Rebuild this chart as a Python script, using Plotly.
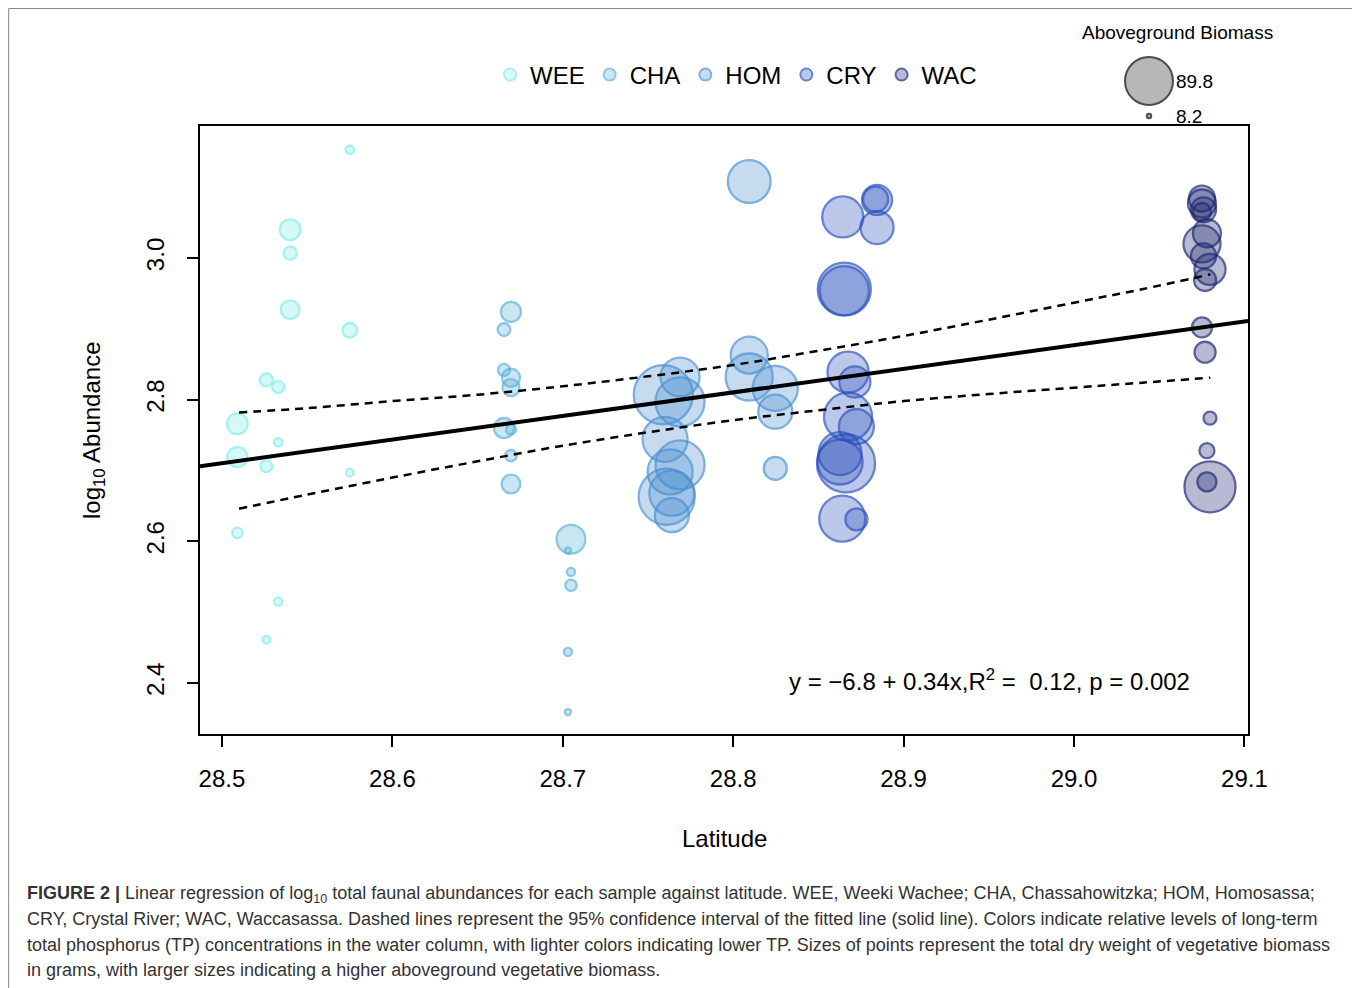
import plotly.graph_objects as go

# ---------------- data ----------------
sites = ["WEE", "CHA", "HOM", "CRY", "WAC"]

wee_lat = [28.575, 28.540, 28.540, 28.540, 28.575, 28.526, 28.533, 28.509, 28.533, 28.509, 28.526, 28.575, 28.509, 28.533, 28.526]
wee_abund = [3.153, 3.040, 3.007, 2.927, 2.898, 2.828, 2.818, 2.766, 2.740, 2.719, 2.706, 2.697, 2.612, 2.515, 2.461]
wee_biomass = [15.5, 38.8, 24.5, 34.8, 27.2, 24.5, 22.1, 38.8, 15.5, 37.5, 22.1, 14.2, 19.5, 15.5, 14.2]

cha_lat = [28.6696, 28.6655, 28.6655, 28.6696, 28.6696, 28.6655, 28.6696, 28.6696, 28.6696, 28.7048, 28.7030, 28.7048, 28.7048, 28.7030, 28.7030]
cha_abund = [2.924, 2.899, 2.842, 2.831, 2.817, 2.760, 2.758, 2.721, 2.681, 2.603, 2.587, 2.557, 2.538, 2.444, 2.359]
cha_biomass = [37.5, 23.8, 22.5, 33.7, 31.8, 37.5, 18.7, 21.2, 35.0, 53.7, 11.2, 15.0, 21.2, 15.0, 11.2]

hom_lat = [28.8094, 28.8094, 28.8094, 28.8247, 28.8247, 28.8247, 28.7688, 28.7590, 28.7688, 28.7600, 28.7688, 28.7630, 28.7610, 28.7640, 28.7640]
hom_abund = [3.108, 2.863, 2.832, 2.816, 2.783, 2.703, 2.832, 2.807, 2.797, 2.744, 2.708, 2.698, 2.663, 2.668, 2.637]
hom_biomass = [80.0, 69.3, 88.0, 84.3, 63.7, 43.1, 73.0, 110.5, 91.8, 84.3, 91.8, 84.3, 104.9, 84.3, 63.7]

cry_lat = [28.8643, 28.8844, 28.8836, 28.8844, 28.8652, 28.8652, 28.8674, 28.8714, 28.8674, 28.8723, 28.8627, 28.8662, 28.8627, 28.8640, 28.8723]
cry_abund = [3.058, 3.082, 3.083, 3.043, 2.956, 2.954, 2.839, 2.825, 2.776, 2.762, 2.724, 2.710, 2.712, 2.632, 2.631]
cry_biomass = [76.8, 56.2, 46.8, 61.8, 99.3, 91.8, 76.8, 58.1, 89.9, 65.5, 80.5, 108.6, 84.3, 86.1, 41.2]

wac_lat = [29.0751, 29.0751, 29.0760, 29.0751, 29.0780, 29.0751, 29.0760, 29.0798, 29.0769, 29.0751, 29.0769, 29.0798, 29.0780, 29.0798, 29.0780]
wac_abund = [3.084, 3.077, 3.068, 3.065, 3.035, 3.020, 3.003, 2.984, 2.969, 2.902, 2.867, 2.774, 2.728, 2.677, 2.684]
wac_biomass = [48.7, 52.4, 46.8, 33.7, 52.4, 69.3, 46.8, 58.1, 41.2, 37.5, 39.3, 24.3, 28.1, 95.5, 35.6]

fit_lat = [28.4871, 29.1021]
fit_abund = [2.706, 2.911]

ci_lat = [28.51, 28.55, 28.60, 28.65, 28.70, 28.75, 28.80, 28.85, 28.90, 28.95, 29.00, 29.04, 29.08]
ci_upper = [2.782, 2.788, 2.798, 2.807, 2.819, 2.833, 2.849, 2.869, 2.890, 2.913, 2.937, 2.956, 2.977]
ci_lower = [2.646, 2.666, 2.690, 2.713, 2.735, 2.754, 2.771, 2.785, 2.798, 2.808, 2.817, 2.824, 2.831]

size_legend_values = [89.8, 8.2]

x_ticks = [28.5, 28.6, 28.7, 28.8, 28.9, 29.0, 29.1]
y_ticks = [2.4, 2.6, 2.8, 3.0]

equation_text = "y = \u22126.8 + 0.34x,R<sup>2</sup> = \u00a00.12, p = 0.002"

caption_lines = [
    "<b>FIGURE 2 |</b> Linear regression of log<sub>10</sub> total faunal abundances for each sample against latitude. WEE, Weeki Wachee; CHA, Chassahowitzka; HOM, Homosassa;",
    "CRY, Crystal River; WAC, Waccasassa. Dashed lines represent the 95% confidence interval of the fitted line (solid line). Colors indicate relative levels of long-term",
    "total phosphorus (TP) concentrations in the water column, with lighter colors indicating lower TP. Sizes of points represent the total dry weight of vegetative biomass",
    "in grams, with larger sizes indicating a higher aboveground vegetative biomass.",
]

# ---------------- styling ----------------
# page body has an 8px margin, so the figure is 1352x980 and starts at (8, 8)
OFF = 8
W, H = 1360 - OFF, 988 - OFF


def fx(px):
    return (px - OFF) / W


def fy(py):
    return 1 - (py - OFF) / H


FONT = "Liberation Sans, Arial, sans-serif"
site_colors = {
    "WEE": (126, 237, 234),
    "CHA": (88, 176, 216),
    "HOM": (72, 142, 208),
    "CRY": (40, 78, 190),
    "WAC": (26, 34, 112),
}
SIZEREF = 1.8727  # diameter px = biomass / SIZEREF

site_data = {
    "WEE": (wee_lat, wee_abund, wee_biomass),
    "CHA": (cha_lat, cha_abund, cha_biomass),
    "HOM": (hom_lat, hom_abund, hom_biomass),
    "CRY": (cry_lat, cry_abund, cry_biomass),
    "WAC": (wac_lat, wac_abund, wac_biomass),
}

fig = go.Figure()

for s in sites:
    lat, ab, bm = site_data[s]
    r, g, b = site_colors[s]
    fig.add_trace(go.Scatter(
        x=lat, y=ab, mode="markers", name=s,
        marker=dict(size=bm, sizemode="diameter", sizeref=SIZEREF,
                    color=f"rgba({r},{g},{b},0.44)",
                    line=dict(color=f"rgb({r},{g},{b})", width=2.3)),
        xaxis="x", yaxis="y",
    ))

fig.add_trace(go.Scatter(x=fit_lat, y=fit_abund, mode="lines", showlegend=False,
                         line=dict(color="black", width=4)))
fig.add_trace(go.Scatter(x=ci_lat, y=ci_upper, mode="lines", showlegend=False,
                         line=dict(color="black", width=2.5, dash="8px,6px", shape="spline")))
fig.add_trace(go.Scatter(x=ci_lat, y=ci_lower, mode="lines", showlegend=False,
                         line=dict(color="black", width=2.5, dash="8px,6px", shape="spline")))

# size legend (secondary axes in top-right)
fig.add_trace(go.Scatter(
    x=[0] * len(size_legend_values),
    y=list(range(len(size_legend_values)))[::-1],
    mode="markers", showlegend=False, xaxis="x2", yaxis="y2",
    marker=dict(size=size_legend_values, sizemode="diameter", sizeref=SIZEREF,
                color="#999999", line=dict(color="black", width=2)),
))

annotations = []
for i, v in enumerate(size_legend_values):
    annotations.append(dict(
        x=0, y=len(size_legend_values) - 1 - i, xref="x2", yref="y2",
        text=f"{v}", showarrow=False, xanchor="left", yanchor="middle",
        xshift=25, font=dict(family=FONT, size=19, color="black"),
    ))
annotations.append(dict(
    x=fx(1177), y=fy(33), xref="paper", yref="paper", text="Aboveground Biomass",
    showarrow=False, xanchor="center", yanchor="middle",
    font=dict(family=FONT, size=19, color="black"),
))
annotations.append(dict(
    x=fx(724), y=fy(838), xref="paper", yref="paper", text="Latitude",
    showarrow=False, xanchor="center", yanchor="middle",
    font=dict(family=FONT, size=24, color="black"),
))
annotations.append(dict(
    x=fx(93), y=fy(430), xref="paper", yref="paper", text="log<sub>10</sub> Abundance",
    showarrow=False, xanchor="center", yanchor="middle", textangle=-90,
    font=dict(family=FONT, size=24, color="black"),
))
annotations.append(dict(
    x=fx(989), y=fy(680), xref="paper", yref="paper", text=equation_text,
    showarrow=False, xanchor="center", yanchor="middle",
    font=dict(family=FONT, size=24, color="black"),
))
for i, line in enumerate(caption_lines):
    annotations.append(dict(
        x=fx(25), y=fy(894 + i * 25.4), xref="paper", yref="paper", text=line,
        showarrow=False, xanchor="left", yanchor="middle",
        font=dict(family=FONT, size=18, color="#333333"),
    ))

fig.update_layout(
    width=W, height=H,
    margin=dict(l=0, r=0, t=0, b=0),
    paper_bgcolor="white", plot_bgcolor="rgba(0,0,0,0)",
    font=dict(family=FONT, size=24, color="black"),
    showlegend=True,
    legend=dict(orientation="h", x=fx(736), y=fy(75), xanchor="center", yanchor="middle",
                font=dict(family=FONT, size=24, color="black"), itemsizing="constant",
                bgcolor="rgba(0,0,0,0)"),
    xaxis=dict(domain=[fx(200), fx(1248)], range=[28.4871, 29.1021],
               tickvals=x_ticks, ticktext=[f"{t:.1f}" for t in x_ticks],
               showgrid=False, zeroline=False, showline=True, mirror=True,
               linecolor="black", linewidth=2, ticks="outside", ticklen=11, tickwidth=2,
               tickcolor="black", tickfont=dict(family=FONT, size=24), ticklabelstandoff=11,
               automargin=False),
    yaxis=dict(domain=[fy(734), fy(126)], range=[2.328, 3.1864],
               tickvals=y_ticks, ticktext=[f"{t:.1f}" for t in y_ticks],
               showgrid=False, zeroline=False, showline=True, mirror=True,
               linecolor="black", linewidth=2, ticks="outside", ticklen=11, tickwidth=2,
               tickcolor="black", tickfont=dict(family=FONT, size=24), tickangle=-90,
               ticklabelstandoff=13, automargin=False),
    xaxis2=dict(domain=[fx(1099), fx(1199)], range=[-0.5, 0.5], visible=False, anchor="y2"),
    yaxis2=dict(domain=[fy(151), fy(46)], range=[-1, 2], visible=False, anchor="x2"),
    annotations=annotations,
    shapes=[dict(type="rect", xref="paper", yref="paper", x0=0.0005, x1=fx(1356),
                 y0=-0.05, y1=0.9995, line=dict(color="#888888", width=1), layer="below")],
)

fig.write_html("out.html")
